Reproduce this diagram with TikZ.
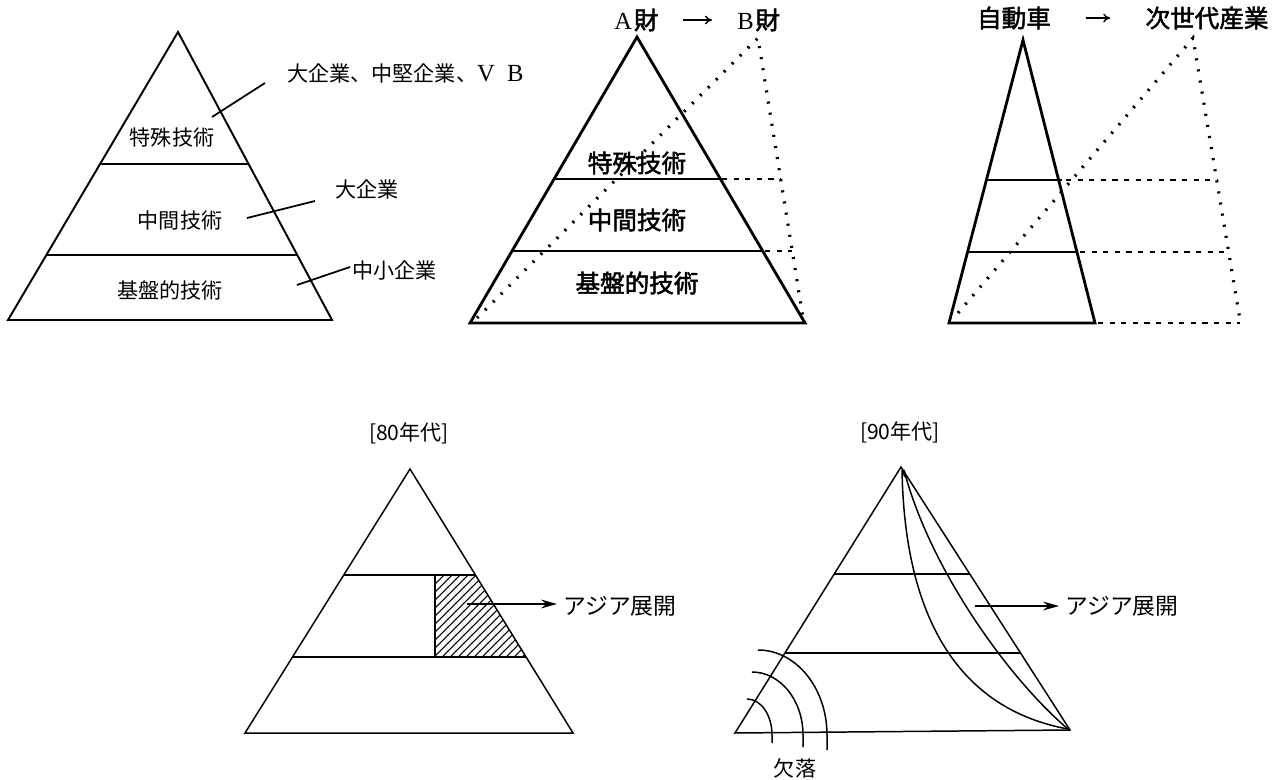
\documentclass[tikz,border=0pt]{standalone}
\usepackage{fontspec}
\setmainfont{Liberation Serif}
\newfontfamily\jp{Noto Sans CJK JP}
\newfontfamily\jpb{Noto Sans CJK JP}[FakeBold=2]
\usetikzlibrary{arrows.meta,calc}
\begin{document}
\begin{tikzpicture}[x=0.02cm,y=-0.02cm,
  edgeA/.style={line width=1.1pt, line join=miter},
  edgeB/.style={line width=1.6pt, line join=miter},
  edgeC/.style={line width=0.85pt, line join=miter},
  dotline/.style={line width=1.8pt, dash pattern=on 1.2pt off 5.2pt},
  dashline/.style={line width=1.6pt, dash pattern=on 3pt off 3.6pt},
  leader/.style={line width=1pt},
  lab/.style={font=\jp\fontsize{12}{14}\selectfont, inner sep=0pt},
  blab/.style={font=\jpb\fontsize{14}{16}\selectfont, inner sep=0pt},
  slab/.style={font=\jp\fontsize{12}{14}\selectfont, inner sep=0pt},
  alab/.style={font=\jp\fontsize{13}{15}\selectfont, inner sep=0pt},
  hdrarrow/.style={line width=0.8pt, -{To[length=4pt,width=5pt]}},
  outarrow/.style={line width=1pt, -{Stealth[length=9pt,width=5pt]}},
]
\useasboundingbox (0,0) rectangle (1281,780);

% ---------------- top-left pyramid ----------------
\draw[edgeA] (178,32) -- (8,320) -- (332,320) -- cycle;
\draw[edgeA] (99,164) -- (249,164);
\draw[edgeA] (46,255) -- (297,255);
\node[lab] (tl1) at (172,138) {特殊技術};
\node[lab] (tl2) at (180,221) {中間技術};
\node[lab] (tl3) at (170,290) {基盤的技術};
\node[lab, anchor=west] (ltop) at (287,73) {大企業、中堅企業、{\rmfamily\fontsize{14}{14}\selectfont V\enspace B}};
\node[lab, anchor=west] (lmid) at (335,189) {大企業};
\node[lab, anchor=west] (lbot) at (352,270) {中小企業};
\coordinate (p1) at (212,117); \coordinate (q1) at (265,83);
\coordinate (p2) at (247,218); \coordinate (q2) at (315,201);
\coordinate (p3) at (297,285); \coordinate (q3) at (350,267);
\draw[leader] (p1) -- (q1);
\draw[leader] (p2) -- (q2);
\draw[leader] (p3) -- (q3);

% ---------------- top-middle pyramid ----------------
\draw[dotline] (477,318) -- (758,38) -- (803,318);
\draw[dashline] (722,179) -- (780,179);
\draw[dashline] (765,251) -- (792,251);
\draw[edgeB] (637,37) -- (470,323) -- (805,323) -- cycle;
\draw[edgeB] (554,179) -- (720,179);
\draw[edgeB] (512,251) -- (763,251);
\node[blab] (tm1) at (637,163) {特殊技術};
\node[blab] (tm2) at (637,220) {中間技術};
\node[blab] (tm3) at (637,283) {基盤的技術};
\node[inner sep=0pt, anchor=west] (hA) at (614,20) {{\rmfamily\fontsize{14}{14}\selectfont A}\kern1pt{\jpb\fontsize{14}{16}\selectfont 財}};
\node[inner sep=0pt, anchor=west] (hB) at (737,20) {{\rmfamily\fontsize{14}{14}\selectfont B}\kern1pt{\jpb\fontsize{14}{16}\selectfont 財}};
\draw[hdrarrow, shorten <=0.48cm, shorten >=0.5cm] (hA.east) -- (hB.west);

% ---------------- top-right pyramid ----------------
\draw[dotline] (958,313) -- (1193,38) -- (1240,320);
\draw[dashline] (1066,180) -- (1217,180);
\draw[dashline] (1080,252) -- (1228,252);
\draw[dashline] (1098,323) -- (1240,323);
\draw[edgeB] (1023,40) -- (949,323) -- (1095,323) -- cycle;
\draw[edgeB] (986,180) -- (1062,180);
\draw[edgeB] (968,252) -- (1077,252);
\node[blab] (hC) at (1014,18) {自動車};
\node[blab] (hD) at (1207,18) {次世代産業};
\draw[hdrarrow, shorten <=0.7cm, shorten >=0.7cm] (hC.east) -- (hD.west);

% ---------------- bottom-left pyramid (80s) ----------------
\begin{scope}
  \clip (435,575) -- (475.5,575) -- (526,657) -- (435,657) -- cycle;
  \foreach \k in {0,...,30} {
    \draw[line width=0.6pt] ({330+8*\k},665) -- ({330+8*\k+100},565);
  }
\end{scope}
\draw[edgeC] (410,469) -- (245,733) -- (573,733) -- cycle;
\draw[edgeC] (344,575) -- (475.5,575);
\draw[edgeC] (292.5,657) -- (526,657);
\draw[edgeC] (435,575) -- (435,657);
\node[slab] (y80) at (409,433) {[80年代]};
\node[alab, anchor=west] (asia1) at (563,606) {アジア展開};
\coordinate (s1) at (467,604);
\draw[outarrow] (s1) -- ([xshift=-0.12cm]asia1.west |- s1);

% ---------------- bottom-right pyramid (90s) ----------------
\draw[edgeC] (901,467) -- (735,733) -- (1070,730) -- cycle;
\draw[edgeC] (834,574) -- (970,574);
\draw[edgeC] (785,653) -- (1020,653);
\draw[edgeC] (902,470) .. controls (905,640) and (975,712) .. (1068,729);
\draw[edgeC] (904,470) .. controls (930,570) and (1010,680) .. (1068,729);
\fill (901,467) -- (907,476) -- (904,477) -- cycle;
\draw[edgeC] (747,699) .. controls (761,699) and (772,715) .. (772,735) -- (772,743);
\draw[edgeC] (752,672) .. controls (780,672) and (803,700) .. (803,735) -- (803,747);
\draw[edgeC] (758,650) .. controls (796,650) and (827,688) .. (827,735) -- (827,750);
\node[slab] (y90) at (900,432) {[90年代]};
\node[slab] (kr) at (795,768) {欠落};
\node[alab, anchor=west] (asia2) at (1065,606) {アジア展開};
\coordinate (s2) at (975,606);
\draw[outarrow] (s2) -- ([xshift=-0.12cm]asia2.west |- s2);
\end{tikzpicture}
\end{document}
